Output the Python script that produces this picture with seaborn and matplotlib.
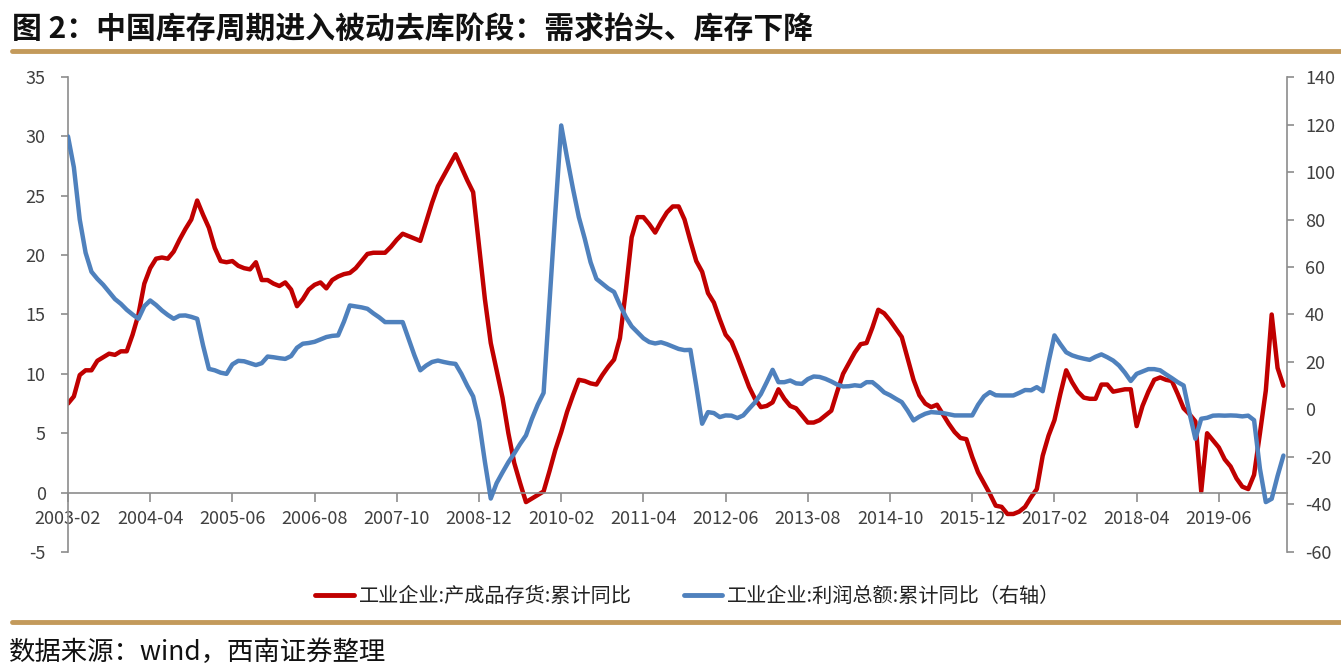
import numpy as np
import pandas as pd
import matplotlib.pyplot as plt
import seaborn as sns
from matplotlib.lines import Line2D

# monthly cumulative yoy, 2003-02 .. 2020-05
months = pd.date_range('2003-02-01', periods=208, freq='MS').strftime('%Y-%m').tolist()

inventory_yoy = [
    7.5, 8.1, 9.9, 10.3, 10.3, 11.1, 11.4, 11.7, 11.6, 11.9,
    11.9, 13.3, 15.0, 17.6, 18.9, 19.7, 19.8, 19.7, 20.3, 21.3,
    22.2, 23.0, 24.6, 23.4, 22.3, 20.6, 19.5, 19.4, 19.5, 19.1,
    18.9, 18.8, 19.4, 17.9, 17.9, 17.6, 17.4, 17.7, 17.1, 15.7,
    16.3, 17.1, 17.5, 17.7, 17.2, 17.9, 18.2, 18.4, 18.5, 18.9,
    19.5, 20.1, 20.2, 20.2, 20.2, 20.7, 21.3, 21.8, 21.6, 21.4,
    21.2, 22.8, 24.4, 25.8, 26.7, 27.6, 28.5, 27.4, 26.3, 25.3,
    20.8, 16.3, 12.6, 10.3, 8.0, 5.0, 2.5, 0.8, -0.8, -0.5,
    -0.2, 0.1, 1.8, 3.6, 5.1, 6.8, 8.2, 9.5, 9.4, 9.2,
    9.1, 9.9, 10.6, 11.2, 13.0, 17.0, 21.5, 23.2, 23.2, 22.6,
    21.9, 22.8, 23.6, 24.1, 24.1, 23.0, 21.2, 19.5, 18.6, 16.8,
    16.0, 14.6, 13.3, 12.7, 11.5, 10.2, 8.9, 7.9, 7.2, 7.3,
    7.6, 8.7, 7.9, 7.3, 7.1, 6.5, 5.9, 5.9, 6.1, 6.5,
    6.9, 8.5, 10.0, 10.9, 11.8, 12.5, 12.6, 13.9, 15.4, 15.1,
    14.5, 13.8, 13.1, 11.3, 9.5, 8.2, 7.5, 7.2, 7.4, 6.6,
    5.8, 5.1, 4.6, 4.5, 3.0, 1.7, 0.8, -0.1, -1.1, -1.2,
    -1.8, -1.8, -1.6, -1.2, -0.4, 0.3, 3.1, 4.8, 6.1, 8.3,
    10.3, 9.3, 8.5, 8.0, 7.9, 7.9, 9.1, 9.1, 8.5, 8.6,
    8.7, 8.7, 5.6, 7.3, 8.5, 9.5, 9.7, 9.5, 9.4, 8.3,
    7.1, 6.6, 6.0, 0.1, 5.0, 4.4, 3.8, 2.8, 2.2, 1.2,
    0.5, 0.3, 1.5, 5.0, 8.6, 15.0, 10.5, 9.0,
]

profit_yoy = [
    115, 102, 80, 66, 58, 55, 52.5, 49.5, 46.5, 44.5,
    42, 40, 38.2, 43.5, 45.9, 44, 41.7, 39.8, 38.2, 39.5,
    39.6, 39, 38.2, 27, 17.1, 16.5, 15.5, 15, 19, 20.5,
    20.3, 19.5, 18.7, 19.5, 22.3, 22, 21.6, 21.3, 22.5, 26,
    27.7, 28, 28.5, 29.5, 30.5, 31, 31.2, 37, 43.8, 43.4,
    43, 42.4, 40.5, 38.8, 36.8, 36.8, 36.8, 36.8, 29.8, 22.8,
    16.5, 18.5, 20.0, 20.6, 20.0, 19.5, 19.2, 15, 10, 5.5,
    -5, -22, -37.5, -31, -26.5, -22.2, -18.5, -14.5, -10.9, -4,
    2, 7, 45, 83, 119.6, 106, 93, 81, 72, 62,
    55, 53, 51, 49.5, 44, 39, 35, 32.5, 30, 28.4,
    27.8, 28.3, 27.5, 26.5, 25.5, 25, 25.1, 10, -6, -1.1,
    -1.5, -3.2, -2.5, -2.6, -3.6, -2.5, 0.3, 3, 6.5, 11.5,
    16.7, 11.5, 11.5, 12.2, 11, 10.8, 12.8, 13.9, 13.7, 12.9,
    11.8, 10.5, 9.7, 9.8, 10.2, 9.9, 11.5, 11.5, 9.5, 7.2,
    6, 4.5, 3.1, -0.5, -4.6, -3, -1.8, -1.1, -1.3, -1.5,
    -2, -2.5, -2.5, -2.5, -2.5, 2, 5.5, 7.3, 6, 5.9,
    5.9, 5.9, 7, 8.2, 8.1, 9.4, 7.7, 20, 31.2, 27.5,
    24.1, 22.8, 22, 21.4, 20.9, 22.2, 23.2, 22, 20.6, 18.5,
    15.5, 12, 15, 16, 17, 17, 16.5, 14.8, 13.2, 11.5,
    10.1, -1.5, -12.3, -3.9, -3.5, -2.6, -2.5, -2.6, -2.5, -2.6,
    -2.9, -2.6, -4.5, -25, -39, -37.6, -28, -19.4,
]

inv_label = '工业企业:产成品存货:累计同比'
profit_label = '工业企业:利润总额:累计同比（右轴）'
title = '图 2：中国库存周期进入被动去库阶段：需求抬头、库存下降'
source = '数据来源：wind，西南证券整理'

red = '#C00000'
blue = '#4F81BD'
gold = '#C39A5B'
grey = '#8C8C8C'
txt = '#404040'

sns.set_style('white')
plt.rcParams['font.family'] = ['Noto Sans CJK SC', 'DejaVu Sans']
plt.rcParams['axes.unicode_minus'] = False

df = pd.DataFrame({'month': months, 'pos': np.arange(len(months)),
                   'inventory': inventory_yoy, 'profit': profit_yoy})

fig = plt.figure(figsize=(13.41, 6.72), dpi=100)
ax = fig.add_axes([0.0507, 0.1786, 0.9090, 0.7068])
ax2 = ax.twinx()

sns.lineplot(data=df, x='pos', y='inventory', ax=ax, color=red, linewidth=3.2, legend=False)
sns.lineplot(data=df, x='pos', y='profit', ax=ax2, color=blue, linewidth=3.2, legend=False)

ax.set_xlim(0, 207.6)
ax.set_ylim(-5, 35)
ax2.set_ylim(-60, 140)
ax.set_yticks(range(-5, 36, 5))
ax2.set_yticks(range(-60, 141, 20))
ax.set_xticks(df['pos'][::14])
ax.set_xticklabels(df['month'][::14])
for a in (ax, ax2):
    a.set_xlabel('')
    a.set_ylabel('')

# axis styling
ax.spines['bottom'].set_position(('data', 0))
ax.spines['top'].set_visible(False)
ax.spines['right'].set_visible(False)
for s in ('left', 'bottom'):
    ax.spines[s].set_color(grey)
    ax.spines[s].set_linewidth(1.2)
for s in ('left', 'top', 'bottom'):
    ax2.spines[s].set_visible(False)
ax2.spines['right'].set_color(grey)
ax2.spines['right'].set_linewidth(1.2)

ax.tick_params(axis='x', bottom=True, direction='out', length=6.5, width=1.2,
               color=grey, pad=6, labelsize=13, labelcolor=txt)
ax.tick_params(axis='y', left=True, direction='out', length=5, width=1.2,
               color=grey, pad=11, labelsize=13, labelcolor=txt)
ax2.tick_params(axis='y', right=True, direction='out', length=5, width=1.2,
                color=grey, pad=8, labelsize=13, labelcolor=txt)

# legend
handles = [Line2D([], [], color=red, linewidth=3.5),
           Line2D([], [], color=blue, linewidth=3.5)]
fig.legend(handles, [inv_label, profit_label], loc='center', ncol=2,
           bbox_to_anchor=(0.513, 0.112), frameon=False, fontsize=14.5,
           handlelength=1.9, handletextpad=0.25, columnspacing=2.6,
           labelcolor='#222222')

# title, rules and source
fig.text(0.009, 0.958, title, fontsize=21.5, fontweight='bold', va='center', ha='left', color='#111111')
fig.add_artist(Line2D([0.009, 1.0], [0.924, 0.924], transform=fig.transFigure, color=gold, linewidth=3.5))
fig.add_artist(Line2D([0.009, 1.0], [0.074, 0.074], transform=fig.transFigure, color=gold, linewidth=3.5))
fig.text(0.007, 0.029, source, fontsize=19, style='italic', va='center', ha='left', color='#111111')

fig.savefig('out.png', dpi=100)
